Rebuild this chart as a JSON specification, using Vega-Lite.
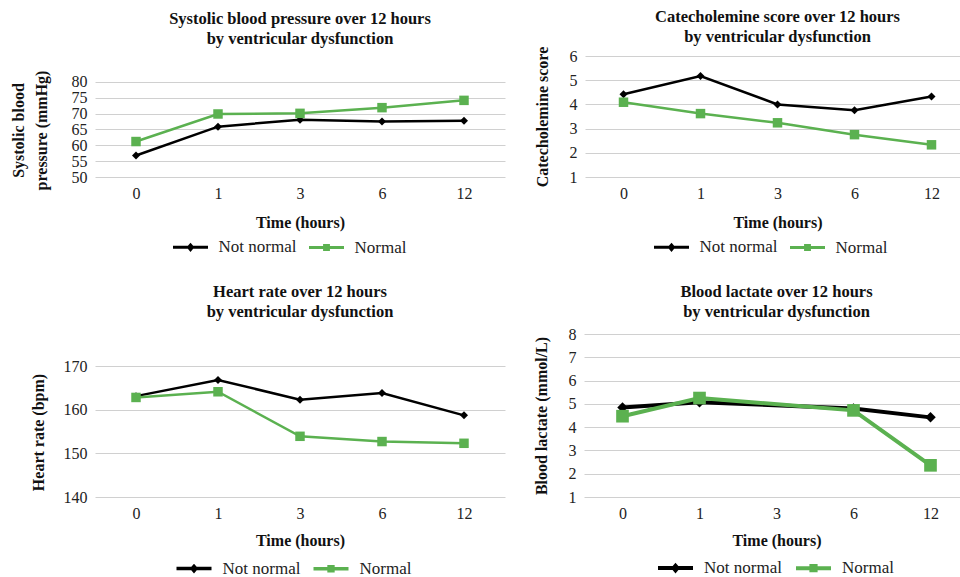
{
  "$schema": "https://vega.github.io/schema/vega-lite/v6.json",
  "padding": {"left": 10, "top": 8, "right": 0, "bottom": 0},
  "background": "white",
  "datasets": {
    "sbp": [
      {"time": "0", "group": "Not normal", "v": 56.8},
      {"time": "1", "group": "Not normal", "v": 65.9},
      {"time": "3", "group": "Not normal", "v": 68.1},
      {"time": "6", "group": "Not normal", "v": 67.5},
      {"time": "12", "group": "Not normal", "v": 67.8},
      {"time": "0", "group": "Normal", "v": 61.2},
      {"time": "1", "group": "Normal", "v": 69.9},
      {"time": "3", "group": "Normal", "v": 70.1},
      {"time": "6", "group": "Normal", "v": 71.9},
      {"time": "12", "group": "Normal", "v": 74.2}
    ],
    "cat": [
      {"time": "0", "group": "Not normal", "v": 4.42},
      {"time": "1", "group": "Not normal", "v": 5.17},
      {"time": "3", "group": "Not normal", "v": 4.0},
      {"time": "6", "group": "Not normal", "v": 3.76},
      {"time": "12", "group": "Not normal", "v": 4.33},
      {"time": "0", "group": "Normal", "v": 4.09},
      {"time": "1", "group": "Normal", "v": 3.62},
      {"time": "3", "group": "Normal", "v": 3.24},
      {"time": "6", "group": "Normal", "v": 2.75},
      {"time": "12", "group": "Normal", "v": 2.33}
    ],
    "hr": [
      {"time": "0", "group": "Not normal", "v": 163.1},
      {"time": "1", "group": "Not normal", "v": 166.8},
      {"time": "3", "group": "Not normal", "v": 162.3},
      {"time": "6", "group": "Not normal", "v": 163.8},
      {"time": "12", "group": "Not normal", "v": 158.7},
      {"time": "0", "group": "Normal", "v": 162.8},
      {"time": "1", "group": "Normal", "v": 164.1},
      {"time": "3", "group": "Normal", "v": 153.9},
      {"time": "6", "group": "Normal", "v": 152.7},
      {"time": "12", "group": "Normal", "v": 152.3}
    ],
    "lac": [
      {"time": "0", "group": "Not normal", "v": 4.84},
      {"time": "1", "group": "Not normal", "v": 5.07},
      {"time": "6", "group": "Not normal", "v": 4.8},
      {"time": "12", "group": "Not normal", "v": 4.42},
      {"time": "0", "group": "Normal", "v": 4.47},
      {"time": "1", "group": "Normal", "v": 5.25},
      {"time": "6", "group": "Normal", "v": 4.72},
      {"time": "12", "group": "Normal", "v": 2.36}
    ]
  },
  "vconcat": [
    {
      "hconcat": [
        {
          "width": 410, "height": 121,
          "data": {"name": "sbp"},
          "title": {"text": ["Systolic blood pressure over 12 hours", "by ventricular dysfunction"], "offset": 9},
          "encoding": {
            "x": {"field": "time", "type": "ordinal", "scale": {"domain": ["0", "1", "3", "6", "12"]}, "axis": {"title": "Time (hours)"}},
            "y": {"field": "v", "type": "quantitative", "scale": {"domain": [50, 88.21], "nice": false, "zero": false}, "axis": {"values": [50, 55, 60, 65, 70, 75, 80], "title": ["Systolic blood", "pressure (mmHg)"], "titleLineHeight": 23, "titlePadding": 22, "titleY": 74}}
          },
          "layer": [
            {"transform": [{"filter": "datum.v < -1000"}], "mark": {"type": "point", "filled": true, "opacity": 1},
             "encoding": {
               "color": {"field": "group", "type": "nominal", "scale": {"domain": ["Not normal", "Normal"], "range": ["#000000", "#5BB150"]}, "legend": {"orient": "none", "legendX": 76.5, "legendY": 172, "direction": "horizontal", "title": null}},
               "stroke": {"field": "group", "type": "nominal", "scale": {"domain": ["Not normal", "Normal"], "range": ["#000000", "#5BB150"]}, "legend": {"orient": "none", "legendX": 76.5, "legendY": 172, "direction": "horizontal", "title": null}},
               "shape": {"field": "group", "type": "nominal", "scale": {"domain": ["Not normal", "Normal"], "range": ["M-1,0H1M0,-0.13L0.11,0L0,0.13L-0.11,0Z", "M-1,0H1M-0.11,-0.11H0.11V0.11H-0.11Z"]}, "legend": {"orient": "none", "legendX": 76.5, "legendY": 172, "direction": "horizontal", "title": null}}
             }},
            {"mark": {"type": "line", "strokeWidth": 2.5}, "encoding": {"color": {"field": "group", "type": "nominal", "legend": null}}},
            {"transform": [{"filter": "datum.group === 'Not normal'"}], "mark": {"type": "point", "shape": "diamond", "filled": true, "size": 64, "opacity": 1}, "encoding": {"color": {"field": "group", "type": "nominal", "legend": null}}},
            {"transform": [{"filter": "datum.group === 'Normal'"}], "mark": {"type": "point", "shape": "square", "filled": true, "size": 90, "opacity": 1}, "encoding": {"color": {"field": "group", "type": "nominal", "legend": null}}}
          ]
        },
        {
          "width": 385, "height": 121,
          "data": {"name": "cat"},
          "title": {"text": ["Catecholemine score over 12 hours", "by ventricular dysfunction"], "offset": 1},
          "encoding": {
            "x": {"field": "time", "type": "ordinal", "scale": {"domain": ["0", "1", "3", "6", "12"]}, "axis": {"title": "Time (hours)"}},
            "y": {"field": "v", "type": "quantitative", "scale": {"domain": [1, 6], "nice": false, "zero": false}, "axis": {"values": [1, 2, 3, 4, 5, 6], "title": "Catecholemine score", "titlePadding": 19}}
          },
          "layer": [
            {"transform": [{"filter": "datum.v < -1000"}], "mark": {"type": "point", "filled": true, "opacity": 1},
             "encoding": {
               "color": {"field": "group", "type": "nominal", "scale": {"domain": ["Not normal", "Normal"], "range": ["#000000", "#5BB150"]}, "legend": {"orient": "none", "legendX": 67.5, "legendY": 172, "direction": "horizontal", "title": null}},
               "stroke": {"field": "group", "type": "nominal", "scale": {"domain": ["Not normal", "Normal"], "range": ["#000000", "#5BB150"]}, "legend": {"orient": "none", "legendX": 67.5, "legendY": 172, "direction": "horizontal", "title": null}},
               "shape": {"field": "group", "type": "nominal", "scale": {"domain": ["Not normal", "Normal"], "range": ["M-1,0H1M0,-0.13L0.11,0L0,0.13L-0.11,0Z", "M-1,0H1M-0.11,-0.11H0.11V0.11H-0.11Z"]}, "legend": {"orient": "none", "legendX": 67.5, "legendY": 172, "direction": "horizontal", "title": null}}
             }},
            {"mark": {"type": "line", "strokeWidth": 2.5}, "encoding": {"color": {"field": "group", "type": "nominal", "legend": null}}},
            {"transform": [{"filter": "datum.group === 'Not normal'"}], "mark": {"type": "point", "shape": "diamond", "filled": true, "size": 64, "opacity": 1}, "encoding": {"color": {"field": "group", "type": "nominal", "legend": null}}},
            {"transform": [{"filter": "datum.group === 'Normal'"}], "mark": {"type": "point", "shape": "square", "filled": true, "size": 90, "opacity": 1}, "encoding": {"color": {"field": "group", "type": "nominal", "legend": null}}}
          ]
        }
      ],
      "spacing": 28,
      "resolve": {"scale": {"color": "independent", "stroke": "independent", "shape": "independent"}, "legend": {"color": "independent", "stroke": "independent", "shape": "independent"}}
    },
    {
      "hconcat": [
        {
          "width": 410, "height": 163,
          "data": {"name": "hr"},
          "title": {"text": ["Heart rate over 12 hours", "by ventricular dysfunction"], "offset": 14},
          "encoding": {
            "x": {"field": "time", "type": "ordinal", "scale": {"domain": ["0", "1", "3", "6", "12"]}, "axis": {"title": "Time (hours)", "titlePadding": 11}},
            "y": {"field": "v", "type": "quantitative", "scale": {"domain": [140, 177.33], "nice": false, "zero": false}, "axis": {"values": [140, 150, 160, 170], "title": "Heart rate (bpm)", "titlePadding": 17, "titleY": 98}}
          },
          "layer": [
            {"transform": [{"filter": "datum.v < -1000"}], "mark": {"type": "point", "filled": true, "opacity": 1},
             "encoding": {
               "color": {"field": "group", "type": "nominal", "scale": {"domain": ["Not normal", "Normal"], "range": ["#000000", "#5BB150"]}, "legend": {"orient": "none", "legendX": 79.5, "legendY": 215, "direction": "horizontal", "title": null, "symbolStrokeWidth": 3.5}},
               "stroke": {"field": "group", "type": "nominal", "scale": {"domain": ["Not normal", "Normal"], "range": ["#000000", "#5BB150"]}, "legend": {"orient": "none", "legendX": 79.5, "legendY": 215, "direction": "horizontal", "title": null, "symbolStrokeWidth": 3.5}},
               "shape": {"field": "group", "type": "nominal", "scale": {"domain": ["Not normal", "Normal"], "range": ["M-1,0H1M0,-0.13L0.11,0L0,0.13L-0.11,0Z", "M-1,0H1M-0.11,-0.11H0.11V0.11H-0.11Z"]}, "legend": {"orient": "none", "legendX": 79.5, "legendY": 215, "direction": "horizontal", "title": null, "symbolStrokeWidth": 3.5}}
             }},
            {"mark": {"type": "line", "strokeWidth": 2.5}, "encoding": {"color": {"field": "group", "type": "nominal", "legend": null}}},
            {"transform": [{"filter": "datum.group === 'Not normal'"}], "mark": {"type": "point", "shape": "diamond", "filled": true, "size": 64, "opacity": 1}, "encoding": {"color": {"field": "group", "type": "nominal", "legend": null}}},
            {"transform": [{"filter": "datum.group === 'Normal'"}], "mark": {"type": "point", "shape": "square", "filled": true, "size": 90, "opacity": 1}, "encoding": {"color": {"field": "group", "type": "nominal", "legend": null}}}
          ]
        },
        {
          "width": 385, "height": 163,
          "data": {"name": "lac"},
          "title": {"text": ["Blood lactate over 12 hours", "by ventricular dysfunction"], "offset": 6},
          "encoding": {
            "x": {"field": "time", "type": "ordinal", "scale": {"domain": ["0", "1", "3", "6", "12"]}, "axis": {"title": "Time (hours)", "titlePadding": 11}},
            "y": {"field": "v", "type": "quantitative", "scale": {"domain": [1, 8], "nice": false, "zero": false}, "axis": {"values": [1, 2, 3, 4, 5, 6, 7, 8], "title": "Blood lactate (mmol/L)", "titlePadding": 19}}
          },
          "layer": [
            {"transform": [{"filter": "datum.v < -1000"}], "mark": {"type": "point", "filled": true, "opacity": 1},
             "encoding": {
               "color": {"field": "group", "type": "nominal", "scale": {"domain": ["Not normal", "Normal"], "range": ["#000000", "#5BB150"]}, "legend": {"orient": "none", "legendX": 72, "legendY": 214.5, "direction": "horizontal", "title": null, "symbolStrokeWidth": 4}},
               "stroke": {"field": "group", "type": "nominal", "scale": {"domain": ["Not normal", "Normal"], "range": ["#000000", "#5BB150"]}, "legend": {"orient": "none", "legendX": 72, "legendY": 214.5, "direction": "horizontal", "title": null, "symbolStrokeWidth": 4}},
               "shape": {"field": "group", "type": "nominal", "scale": {"domain": ["Not normal", "Normal"], "range": ["M-1,0H1M0,-0.13L0.11,0L0,0.13L-0.11,0Z", "M-1,0H1M-0.12,-0.12H0.12V0.12H-0.12Z"]}, "legend": {"orient": "none", "legendX": 72, "legendY": 214.5, "direction": "horizontal", "title": null, "symbolStrokeWidth": 4}}
             }},
            {"mark": {"type": "line", "strokeWidth": 4}, "encoding": {"color": {"field": "group", "type": "nominal", "legend": null}}},
            {"transform": [{"filter": "datum.group === 'Not normal'"}], "mark": {"type": "point", "shape": "diamond", "filled": true, "size": 110, "opacity": 1}, "encoding": {"color": {"field": "group", "type": "nominal", "legend": null}}},
            {"transform": [{"filter": "datum.group === 'Normal'"}], "mark": {"type": "point", "shape": "square", "filled": true, "size": 160, "opacity": 1}, "encoding": {"color": {"field": "group", "type": "nominal", "legend": null}}}
          ]
        }
      ],
      "spacing": 28,
      "resolve": {"scale": {"color": "independent", "stroke": "independent", "shape": "independent"}, "legend": {"color": "independent", "stroke": "independent", "shape": "independent"}}
    }
  ],
  "spacing": 27,
  "resolve": {"scale": {"color": "independent", "stroke": "independent", "shape": "independent"}, "legend": {"color": "independent", "stroke": "independent", "shape": "independent"}},
  "config": {
    "font": "Liberation Serif",
    "view": {"stroke": null},
    "axis": {"labelFont": "Liberation Serif", "labelFontSize": 16, "labelColor": "#222222", "titleFont": "Liberation Serif", "titleFontSize": 16, "titleFontWeight": "bold", "titleColor": "#111111", "domain": false, "ticks": false, "gridColor": "#d0d0d0", "gridWidth": 1},
    "axisX": {"grid": false, "labelAngle": 0, "labelPadding": 8, "titlePadding": 13},
    "axisY": {"grid": true, "labelPadding": 8, "labelOverlap": false},
    "title": {"font": "Liberation Serif", "fontSize": 16.5, "fontWeight": "bold", "lineHeight": 20, "frame": "group", "anchor": "middle", "color": "#111111"},
    "legend": {"labelFont": "Liberation Serif", "labelFontSize": 17, "labelColor": "#222222", "symbolSize": 1225, "symbolStrokeWidth": 3, "labelOffset": 9, "columnPadding": 6, "symbolOpacity": 1, "padding": 0}
  }
}
